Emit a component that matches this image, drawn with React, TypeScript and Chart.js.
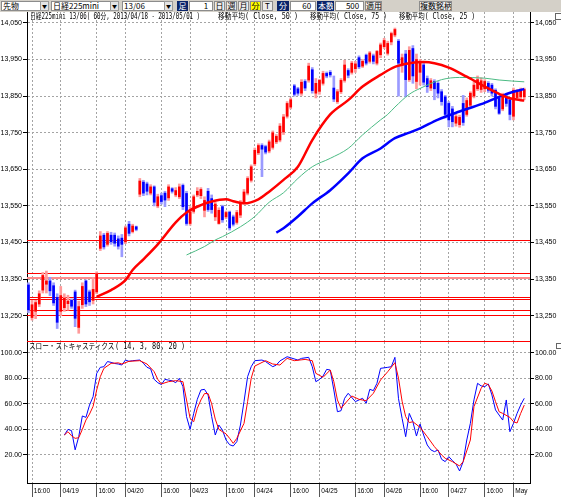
import React, { useEffect, useRef } from 'react';
import { Chart, registerables } from 'chart.js';

Chart.register(...registerables);

// ---------------- data ----------------
const opens = [
  13334, 13245, 13262, 13282, 13320, 13336, 13345, 13332, 13300, 13262,
  13272, 13283, 13292, 13315, 13218, 13280, 13345, 13315, 13292, 13315,
  13434, 13470, 13445, 13470, 13470, 13460, 13462, 13452, 13500, 13480,
  13493, 13582, 13615, 13610, 13585, 13602, 13550, 13578, 13585, 13572,
  13597, 13580, 13575, 13606, 13584, 13502, 13535, 13580, 13578, 13538,
  13590, 13570, 13520, 13502, 13548, 13520, 13533, 13520, 13505, 13525,
  13560, 13585, 13620, 13665, 13695, 13715, 13712, 13700, 13710, 13725,
  13730, 13752, 13795, 13820, 13878, 13870, 13858, 13890, 13894, 13922,
  13858, 13863, 13885, 13912, 13915, 13872, 13835, 13862, 13893, 13920,
  13915, 13925, 13955, 13932, 13962, 13945, 13960, 13940, 13963, 13985,
  13967, 13998, 14017, 14000, 13935, 13965, 13895, 13980, 13890, 13915,
  13935, 13898, 13872, 13890, 13885, 13862, 13848, 13830, 13815, 13776,
  13772, 13830, 13800, 13825, 13850, 13870, 13868, 13870, 13885, 13880,
  13866, 13844, 13815, 13850, 13840, 13795, 13846, 13848, 13848,
];
const highs = [
  13340, 13292, 13292, 13318, 13368, 13372, 13355, 13340, 13310, 13330,
  13310, 13306, 13296, 13320, 13290, 13340, 13348, 13320, 13355, 13370,
  13480, 13475, 13480, 13478, 13476, 13468, 13472, 13495, 13508, 13500,
  13495, 13625, 13620, 13615, 13608, 13605, 13582, 13585, 13590, 13608,
  13600, 13600, 13610, 13610, 13590, 13548, 13580, 13600, 13600, 13575,
  13598, 13580, 13560, 13545, 13552, 13536, 13536, 13525, 13538, 13565,
  13595, 13630, 13662, 13708, 13720, 13720, 13716, 13730, 13755, 13745,
  13775, 13800, 13835, 13845, 13882, 13874, 13895, 13895, 13940, 13928,
  13898, 13896, 13918, 13916, 13920, 13905, 13868, 13898, 13948, 13925,
  13945, 13945, 13960, 13950, 13965, 13972, 13965, 13975, 13995, 14008,
  14000, 14025, 14036, 14005, 13965, 13975, 13985, 13988, 13965, 13950,
  13940, 13905, 13898, 13895, 13890, 13868, 13852, 13835, 13822, 13800,
  13798, 13852, 13845, 13862, 13890, 13905, 13900, 13895, 13890, 13885,
  13870, 13848, 13858, 13858, 13845, 13872, 13868, 13872, 13872,
];
const lows = [
  13258, 13238, 13242, 13275, 13312, 13312, 13305, 13278, 13215, 13250,
  13262, 13265, 13270, 13220, 13202, 13270, 13275, 13278, 13282, 13310,
  13428, 13432, 13440, 13445, 13440, 13432, 13411, 13447, 13468, 13476,
  13482, 13575, 13578, 13580, 13580, 13550, 13545, 13555, 13548, 13565,
  13585, 13575, 13570, 13540, 13497, 13497, 13530, 13575, 13570, 13520,
  13535, 13530, 13510, 13500, 13505, 13515, 13484, 13495, 13500, 13518,
  13555, 13580, 13615, 13660, 13690, 13630, 13692, 13695, 13705, 13720,
  13725, 13745, 13790, 13815, 13850, 13852, 13852, 13865, 13888, 13858,
  13845, 13855, 13880, 13900, 13902, 13835, 13830, 13857, 13888, 13900,
  13910, 13915, 13925, 13928, 13935, 13940, 13938, 13935, 13955, 13980,
  13962, 13990, 14012, 13850, 13915, 13848, 13890, 13885, 13870, 13880,
  13880, 13860, 13865, 13840, 13845, 13825, 13790, 13766, 13766, 13768,
  13765, 13770, 13795, 13818, 13845, 13865, 13860, 13862, 13860, 13850,
  13815, 13800, 13810, 13822, 13785, 13785, 13840, 13842, 13840,
];
const closes = [
  13266, 13280, 13286, 13310, 13360, 13345, 13318, 13285, 13232, 13305,
  13298, 13290, 13276, 13243, 13275, 13330, 13282, 13288, 13322, 13365,
  13468, 13438, 13475, 13452, 13448, 13440, 13445, 13490, 13475, 13495,
  13486, 13618, 13585, 13590, 13602, 13560, 13575, 13562, 13566, 13602,
  13590, 13592, 13602, 13548, 13502, 13534, 13575, 13590, 13595, 13565,
  13540, 13540, 13555, 13538, 13512, 13532, 13490, 13500, 13532, 13560,
  13588, 13625, 13657, 13702, 13715, 13705, 13697, 13725, 13750, 13740,
  13768, 13793, 13830, 13840, 13855, 13858, 13888, 13872, 13932, 13865,
  13885, 13893, 13912, 13905, 13908, 13842, 13862, 13893, 13935, 13907,
  13940, 13938, 13930, 13945, 13940, 13968, 13945, 13972, 13990, 14002,
  13994, 14021, 14032, 13940, 13955, 13895, 13975, 13905, 13950, 13945,
  13888, 13876, 13892, 13870, 13858, 13835, 13800, 13785, 13780, 13794,
  13792, 13778, 13838, 13858, 13880, 13895, 13892, 13890, 13866, 13858,
  13822, 13803, 13850, 13830, 13800, 13866, 13862, 13866, 13868,
];

// moving averages (bar index, value)
const ma25Idx = [19, 23, 27, 29, 32, 36, 41, 44, 48, 51, 55, 57, 60, 64, 67, 71, 75, 79, 84, 89, 93, 98, 102, 106, 110, 113, 117, 122, 127, 131, 134, 137, 138];
const ma25Val = [13302, 13320, 13347, 13375, 13404, 13445, 13505, 13532, 13552, 13562, 13568, 13563, 13557, 13568, 13589, 13621, 13657, 13730, 13800, 13839, 13876, 13908, 13930, 13940, 13943, 13940, 13928, 13903, 13876, 13856, 13844, 13839, 13838];
const ma50Idx = [44, 49, 52, 54, 59, 63, 67, 71, 75, 79, 84, 89, 93, 98, 100, 102, 106, 109, 115, 120, 127, 131, 138];
const ma50Val = [13416, 13439, 13457, 13466, 13493, 13521, 13560, 13586, 13625, 13657, 13680, 13707, 13744, 13785, 13800, 13820, 13855, 13871, 13895, 13901, 13899, 13894, 13889];
const ma75Idx = [69, 71, 75, 79, 84, 89, 93, 98, 102, 106, 109, 114, 120, 126, 131, 135, 138];
const ma75Val = [13477, 13489, 13521, 13557, 13593, 13639, 13680, 13707, 13735, 13750, 13762, 13786, 13808, 13828, 13848, 13862, 13869];

// slow stochastics
const stochKIdx = [10, 11, 12, 13, 14, 15, 16, 17, 18, 19, 20, 21, 22, 23, 24, 25, 26, 27, 28, 29,
  31, 32, 33, 34, 35, 36, 37, 38, 39, 40, 41, 42, 43, 44, 45, 46, 47, 48, 49, 50, 51, 52, 53, 54, 55, 56, 57, 58, 59, 60, 61, 62, 63,
  65, 66, 68, 69, 70, 72, 75, 76, 78, 79, 80, 81, 82, 83, 84, 85, 86, 87, 88, 89,
  91, 93, 94, 95, 96, 97, 98,
  100, 101, 102, 103, 104, 105, 106, 107, 108, 109, 110, 111, 112, 113, 114, 115, 116, 117, 118, 119, 120, 121, 122, 123, 124, 125, 126, 127, 128, 129, 130, 131, 132, 133, 134, 135, 136, 137, 138];
const stochKVal = [35.6, 40, 39, 24, 34.3, 50.5, 49.4, 59, 65.6, 83.8, 88.5, 89, 93, 92.4, 91.5, 91.1, 90.3, 94.2, 93.2, 93.7,
  94.2, 91.6, 88.5, 87.4, 79.1, 76.5, 75, 79.1, 78.5, 78, 76.5, 79.9, 73.4, 50, 40, 52.5, 63.5, 70.8, 71.3, 66.9, 50, 35.6, 43.4, 39.5, 31.7, 28, 27, 30.4, 43.4, 61.7, 81.2, 89, 93.7,
  94.2, 93, 89, 90.3, 93.5, 96.8, 94.2, 95.5, 96.3, 89, 77.3, 79, 81.7, 86.9, 86.4, 70.8, 53.8, 54.6, 64.3, 68.2,
  61.7, 64.3, 60.4, 71.3, 70.3, 76, 87.7,
  88.5, 89, 96.3, 64, 48.6, 34.3, 52.5, 46, 34.8, 44.2, 35.6, 27.8, 24, 22.6, 23.9, 16.6, 14.8, 18.7, 15.6, 13, 7.5, 14.8, 31.7, 44.7, 63, 76, 74, 73.4, 75.5, 66.9, 55.2, 51.2, 47.3, 63, 38.2, 44.7, 52.5, 59, 64.3];
const stochDIdx = [10, 11, 12, 13, 14, 15, 16, 17, 18, 19, 20, 21,
  23, 25, 26, 28, 31, 33, 35, 36, 37, 39, 41, 43,
  44, 45, 46, 47, 48, 49, 50, 51, 52, 53, 54, 55, 56, 57, 58,
  60, 61, 62, 63, 66, 68, 70, 72, 74, 77, 79, 80, 82, 84, 85, 86, 87, 89, 90, 92, 94, 96, 98, 100, 102,
  103, 104, 105, 106, 107, 109, 111, 113, 115, 116, 118, 120, 121, 123, 124, 126, 127, 128, 129, 130, 131, 132, 134, 135, 136, 137, 138];
const stochDVal = [35.6, 38.2, 35, 33, 33.5, 40, 47.3, 52, 58, 70.8, 81.2, 87.7,
  91.6, 92, 91.1, 93.2, 93.7, 91.1, 85.1, 79.1, 75.5, 77.3, 78.1, 77.3,
  63, 48.6, 46, 56.5, 63, 68, 68, 60, 48, 40, 38.2, 36.5, 33, 29.1, 33,
  44.7, 61.7, 79.9, 89.5, 93.7, 91.1, 90.3, 95.5, 93.7, 94.7, 93.7, 83.8, 80.7, 86.4, 77.3, 63, 56.5, 63, 66.1, 63.5, 62.4, 68.2, 78.6, 85.1, 92.1,
  80, 62, 50, 45.3, 46, 41.6, 34.3, 26.5, 20, 17.4, 14.8, 11.4, 14.8, 31.7, 57.8, 72.1, 76, 75, 70, 61.7, 53.8, 52.5, 49.4, 46, 45, 52.5, 59];

// axis ticks
const xTickIdx = [1, 9, 19, 27, 37, 45, 55, 63, 73, 81, 91, 99, 109, 117, 127, 135];
const xTickLabels = ['16:00', '04/19', '16:00', '04/20', '16:00', '04/23', '16:00', '04/24', '16:00', '04/25', '16:00', '04/26', '16:00', '04/27', '16:00', 'May'];
const priceTicks = [13250, 13350, 13450, 13550, 13650, 13750, 13850, 13950, 14050];
const stochTicks = [20, 40, 60, 80, 100];

// horizontal price lines drawn on the chart
const redLevels = [13456, 13366, 13301, 13296, 13265, 13251, 13181];
const pinkLevels = [13354];

// ---------------- chart setup ----------------
const X_MIN = -0.4;
const X_MAX = 139.6;
const PRICE_MIN = 13178.2;
const PRICE_MAX = 14079.8;
const STOCH_MIN = -1.9;
const STOCH_MAX = 108.3;

const TICK_FONT = "'Liberation Sans', Arial, sans-serif";
const GRID = '#a4a4a4';

function pts(idx: number[], val: number[]) {
  return idx.map((x, k) => ({ x, y: val[k] }));
}

function xAxis(show: boolean): any {
  return {
    type: 'linear',
    min: X_MIN,
    max: X_MAX,
    offset: false,
    afterBuildTicks: (s: any) => {
      s.ticks = xTickIdx.map((v) => ({ value: v }));
    },
    grid: { offset: false, color: GRID, lineWidth: 1, drawTicks: show, tickLength: 14, tickColor: '#555', tickBorderDash: [] },
    border: { display: show, color: '#000', width: 1, dash: [2, 2] },
    ticks: {
      display: show,
      autoSkip: false,
      maxRotation: 0,
      minRotation: 0,
      align: 'start',
      padding: -10,
      color: '#000',
      font: { family: TICK_FONT, size: 6.5 },
      callback: (_v: any, i: number) => ' ' + xTickLabels[i],
    },
    afterFit: (s: any) => {
      s.height = show ? 15 : 0;
      s.paddingLeft = 0;
      s.paddingRight = 0;
    },
  };
}

function yAxis(position: string, min: number, max: number, ticks: number[], fmt: (v: any) => string, width: number, gridOnArea: boolean): any {
  return {
    type: 'linear',
    position,
    min,
    max,
    beginAtZero: false,
    afterBuildTicks: (s: any) => {
      s.ticks = ticks.map((v) => ({ value: v }));
    },
    grid: { color: GRID, lineWidth: 1, drawOnChartArea: gridOnArea, drawTicks: true, tickLength: 4, tickColor: '#000', tickBorderDash: [] },
    border: { display: true, color: '#000', width: 1, dash: [2, 2] },
    ticks: { color: '#000', padding: 1, font: { family: TICK_FONT, size: 7 }, callback: fmt },
    afterFit: (s: any) => {
      s.width = width;
      s.paddingTop = 0;
      s.paddingBottom = 0;
    },
  };
}

const fmtPrice = (v: any) => Number(v).toLocaleString('en-US');
const fmtStoch = (v: any) => Number(v).toFixed(2);

const levelPlugin = {
  id: 'levels',
  beforeDatasetsDraw(chart: any) {
    const { ctx, chartArea, scales } = chart;
    const y = scales.y;
    ctx.save();
    const draw = (v: number, color: string, w: number) => {
      const py = Math.round(y.getPixelForValue(v)) + (w % 2 ? 0.5 : 0);
      ctx.strokeStyle = color;
      ctx.lineWidth = w;
      ctx.beginPath();
      ctx.moveTo(chartArea.left, py);
      ctx.lineTo(chartArea.right, py);
      ctx.stroke();
    };
    pinkLevels.forEach((v) => draw(v, '#ff8c8c', 2));
    redLevels.forEach((v) => draw(v, '#ff0000', 1));
    ctx.restore();
  },
};

function priceConfig(): any {
  const up = closes.map((c, i) => c >= opens[i]);
  const wicks = lows.map((l, i) => ({ x: i, y: [l, highs[i]] }));
  const bodies = opens.map((o, i) => ({ x: i, y: [o, closes[i]] }));
  return {
    type: 'bar',
    data: {
      datasets: [
        { type: 'line', label: 'MA25', data: pts(ma25Idx, ma25Val), borderColor: '#ff0000', borderWidth: 2.5, pointRadius: 0, cubicInterpolationMode: 'monotone', order: 1 },
        { type: 'line', label: 'MA75', data: pts(ma75Idx, ma75Val), borderColor: '#0000ff', borderWidth: 2.5, pointRadius: 0, cubicInterpolationMode: 'monotone', order: 2 },
        { type: 'line', label: 'MA50', data: pts(ma50Idx, ma50Val), borderColor: '#4cbb84', borderWidth: 1, pointRadius: 0, cubicInterpolationMode: 'monotone', order: 3 },
        { type: 'bar', label: 'body', data: bodies, backgroundColor: up.map((u) => (u ? '#ff0000' : '#0000ff')), barThickness: 2, grouped: false, minBarLength: 1, order: 4 },
        { type: 'bar', label: 'wick', data: wicks, backgroundColor: up.map((u) => (u ? '#ff9a9a' : '#9a9aff')), barThickness: 2, grouped: false, order: 5 },
      ],
    },
    options: {
      responsive: false,
      animation: false,
      events: [],
      layout: { padding: 0 },
      plugins: { legend: { display: false }, tooltip: { enabled: false } },
      scales: {
        x: xAxis(false),
        y: yAxis('left', PRICE_MIN, PRICE_MAX, priceTicks, fmtPrice, 27, true),
        yR: yAxis('right', PRICE_MIN, PRICE_MAX, priceTicks, fmtPrice, 31, false),
      },
    },
    plugins: [levelPlugin],
  };
}

function stochConfig(): any {
  return {
    type: 'line',
    data: {
      datasets: [
        { label: '%D', data: pts(stochDIdx, stochDVal), borderColor: '#ff0000', borderWidth: 1, pointRadius: 0, tension: 0, order: 1 },
        { label: '%K', data: pts(stochKIdx, stochKVal), borderColor: '#0000ff', borderWidth: 1, pointRadius: 0, tension: 0, order: 2 },
      ],
    },
    options: {
      responsive: false,
      animation: false,
      events: [],
      layout: { padding: 0 },
      plugins: { legend: { display: false }, tooltip: { enabled: false } },
      scales: {
        x: xAxis(true),
        y: yAxis('left', STOCH_MIN, STOCH_MAX, stochTicks, fmtStoch, 27, true),
        yR: yAxis('right', STOCH_MIN, STOCH_MAX, stochTicks, fmtStoch, 31, false),
      },
    },
  };
}

// ---------------- HTML text helpers ----------------
const MONO_CJK = "'DejaVu Sans Mono', 'Noto Sans CJK JP', monospace";
const CJK = "'Noto Sans CJK JP', 'DejaVu Sans', sans-serif";

function Txt({ text, x, y, size, w, family = MONO_CJK, color = '#000' }: any) {
  const natural = Array.from(text as string).reduce(
    (a: number, ch: string) => a + (ch.codePointAt(0)! >= 0x2e80 ? 1 : 0.602) * size,
    0
  );
  const k = w ? w / natural : 1;
  return (
    <div
      style={{
        position: 'absolute',
        left: x,
        top: y,
        fontSize: size,
        lineHeight: 1,
        whiteSpace: 'pre',
        fontFamily: family,
        color,
        transform: `scaleX(${k})`,
        transformOrigin: '0 0',
      }}
    >
      {text}
    </div>
  );
}

function Box({ x, w, text = '', bg = '#fff', color = '#000', border = '1px solid #8c8c8c', align = 'left', size = 8 }: any) {
  return (
    <div
      style={{
        position: 'absolute',
        left: x,
        top: 1,
        width: w,
        height: 10,
        boxSizing: 'border-box',
        background: bg,
        border,
        color,
        fontSize: size,
        lineHeight: '8px',
        fontFamily: CJK,
        textAlign: align,
        paddingLeft: align === 'left' ? 1 : 0,
        paddingRight: align === 'right' ? 2 : 0,
        overflow: 'hidden',
        whiteSpace: 'pre',
      }}
    >
      {text}
    </div>
  );
}

function Arrow({ x }: any) {
  return <Box x={x} w={9} text="▼" bg="#e4e4e4" align="center" size={5} border="1px solid #9a9a9a" />;
}

function Toolbar() {
  const NAVY = '#0a246a';
  const BTN = '#ececec';
  return (
    <div style={{ position: 'absolute', left: 0, top: 0, width: 561, height: 12, background: '#d4d0c8' }}>
      <Box x={1} w={48} text="先物" />
      <Arrow x={40} />
      <Box x={51} w={68} text="日経225mini" />
      <Arrow x={110} />
      <Box x={122} w={51} text="13/06" />
      <Arrow x={164} />
      <Box x={177} w={11} text="足" bg={NAVY} color="#fff" align="center" border="1px solid #0a246a" />
      <Box x={189} w={24} text="1 " align="right" />
      <Box x={214} w={11} text="日" bg={BTN} align="center" />
      <Box x={226} w={11} text="週" bg={BTN} align="center" />
      <Box x={238} w={11} text="月" bg={BTN} align="center" />
      <Box x={250} w={11} text="分" bg="#ffff00" align="center" />
      <Box x={262} w={11} text="T" bg={BTN} align="center" />
      <Box x={277} w={12} text="分" bg={NAVY} color="#fff" align="center" border="1px solid #0a246a" />
      <Box x={290} w={26} text="60 " align="right" />
      <Box x={317} w={17} text="本数" bg={NAVY} color="#fff" align="center" border="1px solid #0a246a" />
      <Box x={335} w={29} text="500 " align="right" />
      <Box x={365} w={17} text="適用" bg={BTN} align="center" />
      <Box x={419} w={33} text="複数銘柄" bg={BTN} align="center" />
    </div>
  );
}

export default function App() {
  const priceRef = useRef<HTMLCanvasElement>(null);
  const stochRef = useRef<HTMLCanvasElement>(null);

  useEffect(() => {
    const pc = new Chart(priceRef.current as HTMLCanvasElement, priceConfig());
    const sc = new Chart(stochRef.current as HTMLCanvasElement, stochConfig());
    return () => {
      pc.destroy();
      sc.destroy();
    };
  }, []);

  return (
    <div style={{ position: 'absolute', left: 0, top: 0, width: 561, height: 498, background: '#fff', overflow: 'hidden' }}>
      <Toolbar />
      <canvas ref={priceRef} width={561} height={330} style={{ position: 'absolute', left: 0, top: 12, width: 561, height: 330 }} />
      <canvas ref={stochRef} width={561} height={156} style={{ position: 'absolute', left: 0, top: 342, width: 561, height: 156 }} />
      <Txt text="日経225mini 13/06( 60分, 2013/04/18 - 2013/05/01 )" x={30} y={13} size={8} w={170} />
      <Txt text="移動平均( Close, 50 )" x={218} y={13} size={8} w={80} />
      <Txt text="移動平均( Close, 75 )" x={310} y={13} size={8} w={77} />
      <Txt text="移動平均( Close, 25 )" x={399} y={13} size={8} w={76} />
      <Txt text="スロー・ストキャスティクス" x={29} y={343} size={8} w={86} />
      <Txt text="( 14, 3, 80, 20 )" x={115} y={343} size={8} w={70} />
      <div style={{ position: 'absolute', left: 555, top: 13, width: 5, height: 5, border: '1px solid #666', background: '#fff' }} />
      <div style={{ position: 'absolute', left: 556, top: 343, width: 4, height: 4, border: '1px solid #666', background: '#fff' }} />
    </div>
  );
}
